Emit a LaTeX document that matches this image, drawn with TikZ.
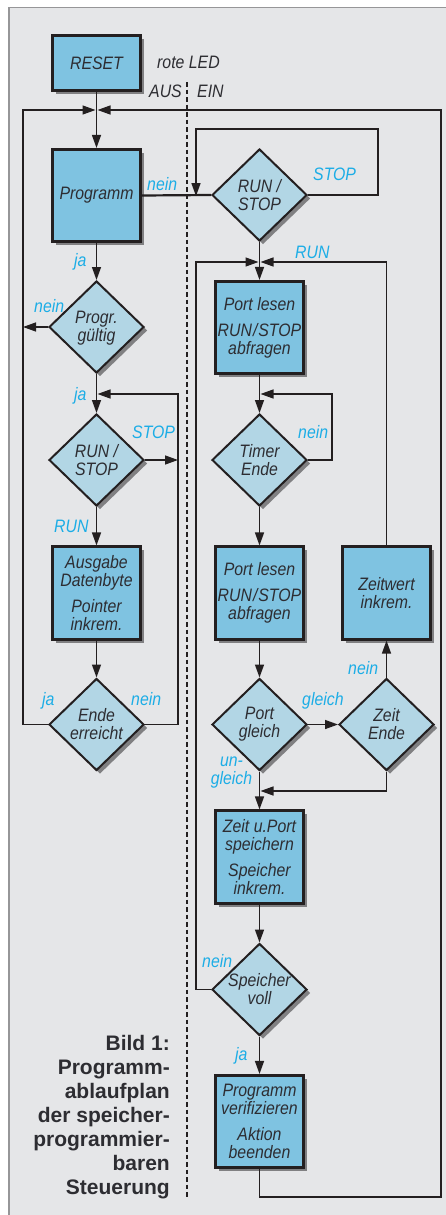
\documentclass[tikz,border=0pt]{standalone}
\usepackage{fontspec}
\setmainfont{Liberation Sans}
\newfontfamily\condf[FakeStretch=0.88]{Liberation Sans}
\usetikzlibrary{shapes.geometric,arrows.meta,shadows}
\definecolor{bgc}{RGB}{229,230,232}
\definecolor{boxfill}{RGB}{127,195,225}
\definecolor{diafill}{RGB}{178,214,229}
\definecolor{labc}{RGB}{28,173,230}
\definecolor{dline}{RGB}{35,31,32}
\definecolor{dtext}{RGB}{45,45,50}
\definecolor{shadowc}{RGB}{128,128,130}
\definecolor{panelc}{RGB}{150,150,152}
\begin{document}
\begin{tikzpicture}[x=1pt,y=-1pt,
  shad/.style={drop shadow={shadow xshift=3.5pt,shadow yshift=-3.5pt,fill=shadowc,opacity=1}},
  box/.style={rectangle,draw=dline,line width=2.6pt,fill=boxfill,minimum width=88.5pt,minimum height=92.5pt,inner sep=0pt,shad},
  dia/.style={diamond,draw=dline,line width=2pt,fill=diafill,minimum width=95pt,minimum height=92pt,inner sep=0pt,shad},
  txt/.style={font=\condf\itshape\fontsize{18}{18}\selectfont,text=dtext,align=center,inner sep=0pt},
  lab/.style={font=\condf\itshape\fontsize{18}{18}\selectfont,text=labc,inner sep=0pt,anchor=base west},
  conn/.style={draw=dline,line width=1.4pt},
  arr/.style={conn,-{Triangle[length=13pt,width=9pt]}},
  captext/.style={font=\bfseries\fontsize{21}{24}\selectfont,text=dtext,align=right,inner sep=0pt,anchor=south east}
]
\useasboundingbox (0,0) rectangle (446,1215);
\fill[white] (0,0) rectangle (446,1215);
\fill[bgc] (9,7.5) rectangle (446,1215);
\draw[panelc,line width=1.5pt] (446,7.5) -- (9,7.5) -- (9,1215);

% dashed divider
\draw[dline,line width=1.6pt,dash pattern=on 4.5pt off 3pt] (187,82) -- (187,1197);

% junction coordinates
\coordinate (jA) at (96.5,110);
\coordinate (jB) at (259.5,262);
\coordinate (jC) at (96.5,394);
\coordinate (jD) at (259.5,394);
\coordinate (jE) at (196,195);
\coordinate (jF) at (259.5,791);
\coordinate (jG) at (178,460);
\coordinate (jH) at (23,327);

% left column
\node[box,minimum height=55.5pt] (reset) at (96.5,63) {};
\node[txt] at (reset) {RESET};
\node[box] (prog) at (96.5,195.5) {};
\node[txt] at (prog) {Programm};
\node[dia] (valid) at (96.5,327) {};
\node[txt] at ([yshift=-1pt]valid.center) {Progr.\\gültig};
\node[dia] (rs2) at (96.5,460) {};
\node[txt] at (rs2) {RUN /\\STOP};
\node[box] (ausg) at (96.5,593) {};
\node[txt] at (ausg) {Ausgabe\\Datenbyte\\[8pt]Pointer\\inkrem.};
\node[dia] (ende) at (96.5,724.5) {};
\node[txt] at (ende) {Ende\\erreicht};

% right column
\node[dia] (rs1) at (259.5,195) {};
\node[txt] at (rs1) {RUN /\\STOP};
\node[box] (port1) at (259.5,327.5) {};
\node[txt] at (port1) {Port lesen\\[8pt]RUN\kern1pt/\kern1pt STOP\\abfragen};
\node[dia] (timer) at (259.5,460) {};
\node[txt] at (timer) {Timer\\Ende};
\node[box] (port2) at (259.5,593) {};
\node[txt] at (port2) {Port lesen\\[8pt]RUN\kern1pt/\kern1pt STOP\\abfragen};
\node[box] (zeitw) at (386.5,593) {};
\node[txt] at (zeitw) {Zeitwert\\inkrem.};
\node[dia] (portg) at (259.5,724.5) {};
\node[txt] at (portg) {Port\\gleich};
\node[dia] (zeitende) at (386.5,724.5) {};
\node[txt] at (zeitende) {Zeit\\Ende};
\node[box] (zport) at (259.5,857) {};
\node[txt] at (zport) {Zeit u.Port\\speichern\\[8pt]Speicher\\inkrem.};
\node[dia] (speicher) at (259.5,989.5) {};
\node[txt] at (speicher) {Speicher\\voll};
\node[box] (verif) at (259.5,1121.5) {};
\node[txt] at (verif) {Programm\\verifizieren\\[8pt]Aktion\\beenden};

% connectors left
\draw[arr] (reset.south) -- (prog.north);
\draw[arr] (ende.west) -- (23,724.5) -- (23,110) -- ([xshift=-1pt]jA);
\draw[arr] (verif.south) -- (259.5,1197) -- (441,1197) -- (441,110) -- ([xshift=1pt]jA);
\draw[arr] (prog.south) -- (valid.north);
\draw[arr] (valid.west) -- (jH);
\draw[arr] (valid.south) -- (rs2.north);
\draw[arr] (ende.east) -- (178,724.5) -- (178,394) -- ([xshift=1pt]jC);
\draw[arr] (rs2.east) -- (jG);
\draw[arr] (rs2.south) -- (ausg.north);
\draw[arr] (ausg.south) -- (ende.north);

% connectors right
\draw[dline,line width=2.2pt] (prog.east) -- (rs1.west);
\draw[arr] (rs1.east) -- (378,195) -- (378,129) -- (196,129) -- ([yshift=-1.1pt]jE);
\draw[arr] (rs1.south) -- (port1.north);
\draw[arr] (zeitw.north) -- (386.5,262) -- ([xshift=1pt]jB);
\draw[arr] (speicher.west) -- (196,989.5) -- (196,262) -- ([xshift=-1pt]jB);
\draw[arr] (port1.south) -- (timer.north);
\draw[arr] (timer.east) -- (332,460) -- (332,394) -- ([xshift=1pt]jD);
\draw[arr] (timer.south) -- (port2.north);
\draw[arr] (port2.south) -- (portg.north);
\draw[arr] (portg.east) -- (zeitende.west);
\draw[arr] (zeitende.north) -- (zeitw.south);
\draw[arr] (zeitende.south) -- (386.5,791) -- ([xshift=1pt]jF);
\draw[arr] (portg.south) -- (zport.north);
\draw[arr] (zport.south) -- (speicher.north);
\draw[arr] (speicher.south) -- (verif.north);

% header texts
\node[txt,anchor=base west] (rled) at (157,68) {rote LED};
\node[txt,anchor=base west] (aus) at (149,97) {AUS};
\node[txt,anchor=base west] (ein) at (197,97) {EIN};

% labels
\node[lab] (l1) at (147,190) {nein};
\node[lab] (l2) at (313,180) {STOP};
\node[lab] (l3) at (295,258) {RUN};
\node[lab] (l4) at (74,266) {ja};
\node[lab] (l5) at (34,312) {nein};
\node[lab] (l6) at (74,400) {ja};
\node[lab] (l7) at (132,438) {STOP};
\node[lab] (l8) at (54,532) {RUN};
\node[lab] (l9) at (298,438) {nein};
\node[lab] (l10) at (42,705) {ja};
\node[lab] (l11) at (131,705) {nein};
\node[lab] (l12) at (348,674) {nein};
\node[lab] (l13) at (302,705) {gleich};
\node[lab,align=center,anchor=base] (l14) at (231.5,784) {un-\\gleich};
\node[lab] (l15) at (202,967) {nein};
\node[lab] (l16) at (235,1060) {ja};

% caption
\node[captext] (caption) at (170,1199.5) {Bild 1:\\Programm-\\ablaufplan\\der speicher-\\programmier-\\baren\\Steuerung};
\end{tikzpicture}
\end{document}
